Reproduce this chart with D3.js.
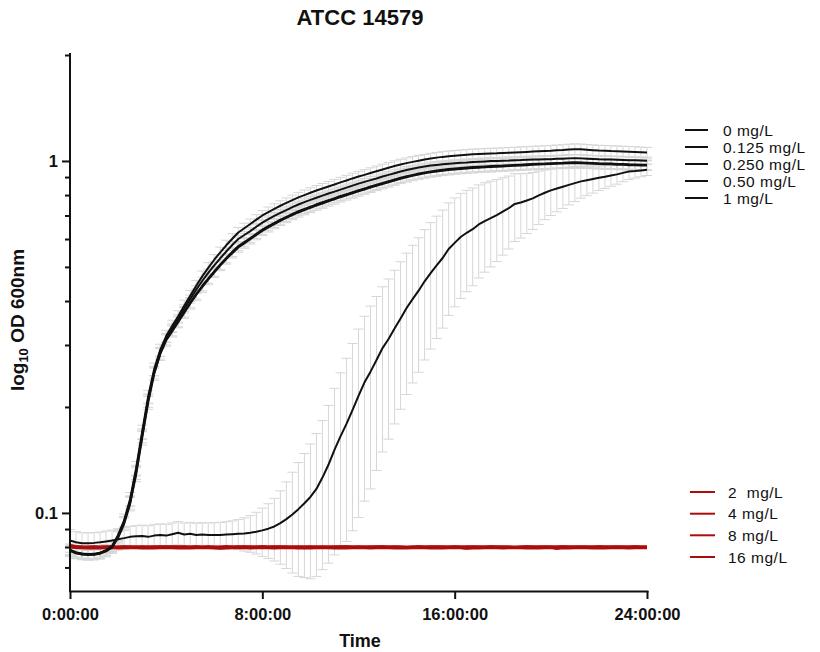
<!DOCTYPE html>
<html>
<head>
<meta charset="utf-8">
<script src="https://cdn.jsdelivr.net/npm/d3@7"></script>
<style>
  html, body { margin: 0; padding: 0; background: #fff; }
  svg { display: block; font-family: "Liberation Sans", Arial, Helvetica, sans-serif; }
</style>
</head>
<body>
<svg id="chart" width="820" height="652"></svg>
<script>
// OD600 readings every 15 minutes over 24 h (97 readings per concentration)
const sampleStepHours = 0.25;

// 0 mg/L
const od0 = [
  0.0786,0.0773,0.0767,0.0764,0.0765,0.0771,0.0784,0.0806,0.0866,0.0952,0.1095,0.1340,
  0.1700,0.2140,0.2560,0.2900,0.3180,0.3400,0.3620,0.3880,0.4140,0.4420,0.4700,0.4970,
  0.5240,0.5500,0.5760,0.6010,0.6260,0.6440,0.6620,0.6810,0.7000,0.7160,0.7310,0.7460,
  0.7600,0.7740,0.7880,0.8000,0.8120,0.8240,0.8350,0.8460,0.8570,0.8690,0.8800,0.8920,
  0.9030,0.9130,0.9240,0.9350,0.9460,0.9570,0.9670,0.9770,0.9860,0.9940,1.0020,1.0090,
  1.0160,1.0220,1.0270,1.0310,1.0350,1.0380,1.0410,1.0440,1.0460,1.0480,1.0500,1.0510,
  1.0530,1.0550,1.0570,1.0590,1.0610,1.0630,1.0650,1.0670,1.0690,1.0720,1.0740,1.0780,
  1.0800,1.0790,1.0760,1.0730,1.0700,1.0690,1.0670,1.0660,1.0640,1.0620,1.0600,1.0580,1.0560
];
const sd0 = [
  0.0030,0.0028,0.0027,0.0027,0.0027,0.0028,0.0029,0.0031,0.0035,0.0040,0.0048,0.0060,
  0.0075,0.0090,0.0105,0.0115,0.0122,0.0128,0.0135,0.0143,0.0150,0.0158,0.0165,0.0172,
  0.0180,0.0188,0.0195,0.0202,0.0210,0.0215,0.0220,0.0226,0.0232,0.0237,0.0242,0.0247,
  0.0252,0.0257,0.0262,0.0267,0.0272,0.0277,0.0282,0.0287,0.0292,0.0297,0.0302,0.0307,
  0.0312,0.0316,0.0320,0.0324,0.0328,0.0332,0.0336,0.0339,0.0342,0.0345,0.0348,0.0350,
  0.0352,0.0354,0.0356,0.0358,0.0360,0.0362,0.0363,0.0364,0.0365,0.0366,0.0367,0.0368,
  0.0369,0.0370,0.0371,0.0372,0.0373,0.0374,0.0375,0.0376,0.0377,0.0378,0.0379,0.0380,
  0.0380,0.0380,0.0379,0.0378,0.0377,0.0376,0.0375,0.0374,0.0373,0.0372,0.0371,0.0370,0.0369
];

// 0.125 mg/L
const od0125 = [
  0.0784,0.0771,0.0765,0.0762,0.0764,0.0770,0.0782,0.0803,0.0860,0.0945,0.1080,0.1320,
  0.1675,0.2110,0.2530,0.2870,0.3140,0.3350,0.3560,0.3800,0.4050,0.4310,0.4560,0.4810,
  0.5050,0.5290,0.5530,0.5770,0.6000,0.6160,0.6320,0.6500,0.6680,0.6830,0.6980,0.7120,
  0.7250,0.7390,0.7520,0.7640,0.7750,0.7860,0.7970,0.8080,0.8180,0.8290,0.8400,0.8510,
  0.8620,0.8720,0.8820,0.8920,0.9030,0.9130,0.9230,0.9330,0.9420,0.9500,0.9580,0.9640,
  0.9700,0.9740,0.9780,0.9820,0.9850,0.9880,0.9900,0.9930,0.9950,0.9970,0.9990,1.0000,
  1.0020,1.0030,1.0050,1.0060,1.0080,1.0090,1.0100,1.0110,1.0120,1.0140,1.0150,1.0170,
  1.0180,1.0170,1.0150,1.0130,1.0110,1.0100,1.0090,1.0080,1.0070,1.0050,1.0040,1.0030,1.0020
];
const sd0125 = [
  0.0022,0.0021,0.0020,0.0020,0.0020,0.0021,0.0022,0.0024,0.0027,0.0031,0.0037,0.0046,
  0.0058,0.0068,0.0078,0.0085,0.0090,0.0094,0.0098,0.0102,0.0106,0.0110,0.0114,0.0118,
  0.0122,0.0126,0.0130,0.0134,0.0138,0.0141,0.0144,0.0147,0.0150,0.0153,0.0156,0.0159,
  0.0162,0.0165,0.0168,0.0171,0.0174,0.0177,0.0180,0.0183,0.0186,0.0189,0.0192,0.0195,
  0.0198,0.0200,0.0202,0.0204,0.0206,0.0208,0.0210,0.0212,0.0214,0.0216,0.0218,0.0220,
  0.0221,0.0222,0.0223,0.0224,0.0225,0.0226,0.0227,0.0228,0.0229,0.0230,0.0231,0.0232,
  0.0233,0.0234,0.0235,0.0236,0.0237,0.0238,0.0239,0.0240,0.0241,0.0242,0.0243,0.0244,
  0.0245,0.0245,0.0244,0.0243,0.0242,0.0241,0.0240,0.0239,0.0238,0.0237,0.0236,0.0235,0.0234
];

// 0.250 mg/L
const od025 = [
  0.0782,0.0769,0.0763,0.0761,0.0762,0.0768,0.0780,0.0800,0.0855,0.0938,0.1070,0.1300,
  0.1650,0.2080,0.2500,0.2840,0.3110,0.3300,0.3500,0.3730,0.3960,0.4190,0.4420,0.4640,
  0.4860,0.5080,0.5300,0.5520,0.5730,0.5880,0.6040,0.6210,0.6380,0.6530,0.6670,0.6810,
  0.6940,0.7070,0.7200,0.7310,0.7420,0.7530,0.7630,0.7740,0.7840,0.7950,0.8050,0.8150,
  0.8260,0.8360,0.8460,0.8560,0.8660,0.8760,0.8860,0.8960,0.9050,0.9130,0.9210,0.9280,
  0.9340,0.9390,0.9440,0.9480,0.9520,0.9550,0.9580,0.9610,0.9630,0.9650,0.9670,0.9690,
  0.9700,0.9720,0.9740,0.9760,0.9780,0.9800,0.9820,0.9830,0.9850,0.9870,0.9880,0.9900,
  0.9910,0.9900,0.9890,0.9870,0.9850,0.9840,0.9830,0.9810,0.9800,0.9780,0.9770,0.9760,0.9750
];
const sd025 = [
  0.0028,0.0026,0.0025,0.0025,0.0025,0.0026,0.0027,0.0029,0.0033,0.0038,0.0045,0.0056,
  0.0070,0.0084,0.0096,0.0105,0.0111,0.0116,0.0121,0.0127,0.0132,0.0138,0.0143,0.0148,
  0.0153,0.0158,0.0163,0.0168,0.0173,0.0177,0.0181,0.0185,0.0189,0.0193,0.0197,0.0201,
  0.0205,0.0209,0.0213,0.0217,0.0221,0.0225,0.0229,0.0233,0.0237,0.0241,0.0245,0.0249,
  0.0253,0.0256,0.0259,0.0262,0.0265,0.0268,0.0271,0.0274,0.0277,0.0280,0.0282,0.0284,
  0.0286,0.0288,0.0290,0.0292,0.0294,0.0296,0.0298,0.0299,0.0300,0.0301,0.0302,0.0303,
  0.0304,0.0305,0.0306,0.0307,0.0308,0.0309,0.0310,0.0311,0.0312,0.0313,0.0314,0.0315,
  0.0316,0.0316,0.0315,0.0314,0.0313,0.0312,0.0311,0.0310,0.0309,0.0308,0.0307,0.0306,0.0305
];

// 0.50 mg/L
const od05 = [
  0.0780,0.0768,0.0762,0.0760,0.0761,0.0766,0.0778,0.0797,0.0850,0.0930,0.1060,0.1285,
  0.1630,0.2055,0.2480,0.2820,0.3090,0.3280,0.3480,0.3700,0.3930,0.4160,0.4380,0.4600,
  0.4820,0.5040,0.5260,0.5470,0.5680,0.5830,0.5990,0.6160,0.6330,0.6480,0.6620,0.6760,
  0.6890,0.7020,0.7140,0.7250,0.7360,0.7470,0.7570,0.7680,0.7780,0.7890,0.7990,0.8090,
  0.8200,0.8300,0.8400,0.8500,0.8600,0.8700,0.8800,0.8900,0.8990,0.9070,0.9150,0.9220,
  0.9280,0.9330,0.9380,0.9420,0.9460,0.9490,0.9520,0.9550,0.9570,0.9590,0.9610,0.9630,
  0.9650,0.9670,0.9690,0.9710,0.9730,0.9750,0.9770,0.9780,0.9800,0.9820,0.9830,0.9850,
  0.9860,0.9850,0.9840,0.9820,0.9800,0.9790,0.9780,0.9760,0.9750,0.9730,0.9720,0.9710,0.9700
];
const sd05 = [
  0.0029,0.0027,0.0026,0.0026,0.0026,0.0027,0.0028,0.0030,0.0034,0.0039,0.0047,0.0058,
  0.0072,0.0086,0.0099,0.0108,0.0114,0.0119,0.0124,0.0130,0.0136,0.0142,0.0147,0.0152,
  0.0157,0.0162,0.0167,0.0172,0.0177,0.0181,0.0185,0.0189,0.0193,0.0197,0.0201,0.0205,
  0.0209,0.0213,0.0217,0.0221,0.0225,0.0229,0.0233,0.0237,0.0241,0.0245,0.0249,0.0253,
  0.0257,0.0260,0.0263,0.0266,0.0269,0.0272,0.0275,0.0278,0.0281,0.0284,0.0286,0.0288,
  0.0290,0.0292,0.0294,0.0296,0.0298,0.0300,0.0302,0.0303,0.0304,0.0305,0.0306,0.0307,
  0.0308,0.0309,0.0310,0.0311,0.0312,0.0313,0.0314,0.0315,0.0316,0.0317,0.0318,0.0319,
  0.0320,0.0320,0.0319,0.0318,0.0317,0.0316,0.0315,0.0314,0.0313,0.0312,0.0311,0.0310,0.0309
];

// 1 mg/L
const od1 = [
  0.0835,0.0825,0.0820,0.0820,0.0822,0.0825,0.0830,0.0835,0.0842,0.0848,0.0855,0.0858,
  0.0860,0.0855,0.0862,0.0866,0.0862,0.0870,0.0878,0.0868,0.0872,0.0866,0.0868,0.0866,
  0.0866,0.0866,0.0868,0.0870,0.0872,0.0874,0.0878,0.0884,0.0892,0.0902,0.0915,0.0935,
  0.0960,0.0990,0.1025,0.1065,0.1110,0.1170,0.1260,0.1370,0.1510,0.1650,0.1790,0.1960,
  0.2150,0.2350,0.2520,0.2720,0.2940,0.3120,0.3340,0.3570,0.3820,0.4050,0.4280,0.4550,
  0.4800,0.5050,0.5300,0.5620,0.5850,0.6080,0.6250,0.6400,0.6600,0.6750,0.6880,0.7020,
  0.7180,0.7340,0.7550,0.7620,0.7720,0.7830,0.7980,0.8120,0.8250,0.8350,0.8450,0.8550,
  0.8650,0.8750,0.8820,0.8890,0.8960,0.9020,0.9090,0.9160,0.9250,0.9330,0.9360,0.9400,0.9440
];
const sd1 = [
  0.0062,0.0060,0.0058,0.0058,0.0057,0.0057,0.0058,0.0058,0.0058,0.0060,0.0061,0.0062,
  0.0063,0.0064,0.0064,0.0065,0.0066,0.0066,0.0067,0.0068,0.0068,0.0069,0.0070,0.0071,
  0.0072,0.0074,0.0076,0.0079,0.0085,0.0095,0.0105,0.0120,0.0140,0.0160,0.0185,0.0220,
  0.0265,0.0315,0.0365,0.0410,0.0460,0.0510,0.0570,0.0650,0.0750,0.0850,0.0960,0.1070,
  0.1180,0.1270,0.1350,0.1400,0.1450,0.1500,0.1550,0.1600,0.1650,0.1710,0.1770,0.1830,
  0.1880,0.1920,0.1950,0.1980,0.2000,0.2010,0.2000,0.1980,0.1950,0.1920,0.1880,0.1840,
  0.1780,0.1720,0.1650,0.1580,0.1500,0.1440,0.1380,0.1310,0.1250,0.1180,0.1120,0.1050,
  0.0980,0.0910,0.0850,0.0790,0.0720,0.0670,0.0620,0.0570,0.0520,0.0470,0.0420,0.0385,0.0350
];

// 2, 4, 8 and 16 mg/L (no growth)
const od2 = [
  0.0806,0.0803,0.0801,0.0800,0.0801,0.0800,0.0801,0.0801,0.0800,0.0802,0.0801,0.0800,
  0.0801,0.0800,0.0802,0.0801,0.0800,0.0801,0.0802,0.0801,0.0800,0.0801,0.0800,0.0801,
  0.0800,0.0799,0.0801,0.0800,0.0801,0.0802,0.0801,0.0800,0.0801,0.0800,0.0801,0.0802,
  0.0801,0.0800,0.0801,0.0800,0.0799,0.0800,0.0801,0.0800,0.0801,0.0802,0.0801,0.0800,
  0.0801,0.0800,0.0801,0.0802,0.0801,0.0800,0.0801,0.0800,0.0799,0.0800,0.0801,0.0800,
  0.0801,0.0802,0.0801,0.0800,0.0801,0.0800,0.0801,0.0802,0.0801,0.0800,0.0801,0.0800,
  0.0801,0.0800,0.0799,0.0800,0.0801,0.0800,0.0801,0.0802,0.0801,0.0800,0.0801,0.0800,
  0.0801,0.0802,0.0801,0.0800,0.0801,0.0800,0.0801,0.0802,0.0801,0.0800,0.0801,0.0800,0.0801
];
const od4 = [
  0.0803,0.0800,0.0798,0.0798,0.0797,0.0798,0.0798,0.0797,0.0798,0.0799,0.0798,0.0797,
  0.0798,0.0797,0.0798,0.0799,0.0798,0.0797,0.0798,0.0797,0.0798,0.0799,0.0798,0.0797,
  0.0798,0.0794,0.0797,0.0798,0.0799,0.0798,0.0797,0.0798,0.0797,0.0798,0.0799,0.0798,
  0.0797,0.0798,0.0797,0.0798,0.0799,0.0798,0.0797,0.0798,0.0797,0.0798,0.0797,0.0798,
  0.0799,0.0798,0.0797,0.0798,0.0797,0.0798,0.0799,0.0798,0.0797,0.0798,0.0797,0.0798,
  0.0799,0.0798,0.0797,0.0798,0.0797,0.0798,0.0794,0.0797,0.0798,0.0797,0.0798,0.0799,
  0.0798,0.0797,0.0798,0.0797,0.0798,0.0799,0.0798,0.0797,0.0798,0.0797,0.0798,0.0799,
  0.0798,0.0797,0.0798,0.0797,0.0798,0.0799,0.0798,0.0797,0.0798,0.0797,0.0798,0.0797,0.0798
];
const od8 = [
  0.0800,0.0797,0.0796,0.0795,0.0796,0.0795,0.0796,0.0796,0.0795,0.0796,0.0797,0.0796,
  0.0795,0.0796,0.0795,0.0796,0.0797,0.0796,0.0795,0.0796,0.0795,0.0796,0.0797,0.0796,
  0.0795,0.0796,0.0795,0.0796,0.0797,0.0796,0.0795,0.0796,0.0797,0.0796,0.0795,0.0796,
  0.0797,0.0796,0.0795,0.0796,0.0795,0.0796,0.0797,0.0796,0.0795,0.0796,0.0795,0.0796,
  0.0797,0.0796,0.0795,0.0796,0.0797,0.0796,0.0795,0.0796,0.0795,0.0796,0.0797,0.0796,
  0.0795,0.0796,0.0795,0.0796,0.0797,0.0796,0.0795,0.0796,0.0795,0.0796,0.0797,0.0796,
  0.0795,0.0796,0.0797,0.0796,0.0795,0.0796,0.0795,0.0796,0.0797,0.0792,0.0796,0.0795,
  0.0796,0.0797,0.0796,0.0795,0.0796,0.0795,0.0796,0.0797,0.0796,0.0795,0.0796,0.0797,0.0796
];
const od16 = [
  0.0808,0.0802,0.0799,0.0799,0.0800,0.0799,0.0799,0.0800,0.0799,0.0800,0.0799,0.0800,
  0.0799,0.0800,0.0799,0.0800,0.0801,0.0800,0.0799,0.0800,0.0799,0.0800,0.0799,0.0800,
  0.0799,0.0800,0.0801,0.0800,0.0799,0.0800,0.0799,0.0800,0.0801,0.0800,0.0799,0.0800,
  0.0799,0.0800,0.0799,0.0800,0.0801,0.0800,0.0799,0.0800,0.0799,0.0800,0.0801,0.0800,
  0.0799,0.0800,0.0799,0.0800,0.0801,0.0800,0.0799,0.0800,0.0799,0.0800,0.0801,0.0800,
  0.0799,0.0800,0.0799,0.0800,0.0801,0.0800,0.0799,0.0800,0.0799,0.0800,0.0801,0.0800,
  0.0799,0.0800,0.0799,0.0800,0.0801,0.0800,0.0799,0.0800,0.0799,0.0800,0.0801,0.0800,
  0.0799,0.0800,0.0799,0.0800,0.0801,0.0800,0.0799,0.0800,0.0799,0.0800,0.0801,0.0800,0.0799
];

const growthLabels = ["0 mg/L", "0.125 mg/L", "0.250 mg/L", "0.50 mg/L", "1 mg/L"];
const inhibitedLabels = ["2  mg/L", "4 mg/L", "8 mg/L", "16 mg/L"];

const xTickHours = [0, 8, 16, 24];
const xTickLabels = ["0:00:00", "8:00:00", "16:00:00", "24:00:00"];
const yMajorTicks = [0.1, 1];
const yMajorLabels = ["0.1", "1"];
const yMinorTicks = [0.07, 0.08, 0.09, 0.2, 0.3, 0.4, 0.5, 0.6, 0.7, 0.8, 0.9, 2];

const titleText = "ATCC 14579";
const xTitle = "Time";

// ---------------------------------------------------------------------------
const growthSeries = [
  { label: growthLabels[0], od: od0, sd: sd0 },
  { label: growthLabels[1], od: od0125, sd: sd0125 },
  { label: growthLabels[2], od: od025, sd: sd025 },
  { label: growthLabels[3], od: od05, sd: sd05 },
  { label: growthLabels[4], od: od1, sd: sd1 }
];
const inhibitedSeries = [
  { label: inhibitedLabels[0], od: od2 },
  { label: inhibitedLabels[1], od: od4 },
  { label: inhibitedLabels[2], od: od8 },
  { label: inhibitedLabels[3], od: od16 }
];

const BLACK = "#111111";
const RED = "#ad0c0c";
const BAR = "#d6d6d6";
const FONT = '"Liberation Sans", Arial, Helvetica, sans-serif';

const svg = d3.select("#chart");

const x = d3.scaleLinear().domain([0, 24]).range([70, 647]);
const y = d3.scaleLog().domain([0.06, 2]).range([591, 55]);
const hourAt = i => i * sampleStepHours;

// error bars (mean ± SD), drawn beneath every curve
const capHalf = 5;
const barLayer = svg.append("g")
  .attr("fill", "none")
  .attr("stroke", BAR)
  .attr("stroke-width", 1);

growthSeries.forEach(s => {
  barLayer.append("path")
    .attr("d", s.od.map((v, i) => {
      const px = x(hourAt(i));
      const hi = y(v + s.sd[i]);
      const loVal = v - s.sd[i];
      const lo = y(Math.max(loVal, y.domain()[0]));
      let d = `M${px},${lo}V${hi}M${px - capHalf},${hi}H${px + capHalf}`;
      if (loVal > y.domain()[0]) d += `M${px - capHalf},${lo}H${px + capHalf}`;
      return d;
    }).join(""));
});

const line = d3.line()
  .x((d, i) => x(hourAt(i)))
  .y(d => y(d));

// no-growth concentrations
svg.append("g").selectAll("path")
  .data(inhibitedSeries)
  .join("path")
  .attr("d", d => line(d.od))
  .attr("fill", "none")
  .attr("stroke", RED)
  .attr("stroke-width", 3)
  .attr("stroke-linejoin", "round");

// growing concentrations
svg.append("g").selectAll("path")
  .data(growthSeries)
  .join("path")
  .attr("d", d => line(d.od))
  .attr("fill", "none")
  .attr("stroke", BLACK)
  .attr("stroke-width", 2)
  .attr("stroke-linejoin", "round");

// axes
function styleAxis(g) {
  g.attr("font-family", FONT);
  g.select(".domain").attr("stroke", BLACK).attr("stroke-width", 2).attr("stroke-linecap", "square");
  g.selectAll(".tick line").attr("stroke", BLACK).attr("stroke-width", 2);
  g.selectAll(".tick text")
    .attr("fill", BLACK)
    .attr("font-size", 16.5)
    .attr("font-weight", "bold");
}

const yAxisG = svg.append("g")
  .attr("transform", "translate(70,0)")
  .call(d3.axisLeft(y)
    .tickValues(yMajorTicks)
    .tickFormat((d, i) => yMajorLabels[i])
    .tickSize(8)
    .tickSizeOuter(0)
    .tickPadding(4))
  .call(styleAxis);
yAxisG.select(".domain").attr("d", `M0,${y.range()[0]}V${y.range()[1] - 1}`);

svg.append("g")
  .attr("transform", "translate(70,0)")
  .call(d3.axisLeft(y).tickValues(yMinorTicks).tickFormat("").tickSize(5).tickSizeOuter(0))
  .call(g => g.select(".domain").remove())
  .call(g => g.selectAll(".tick line").attr("stroke", BLACK).attr("stroke-width", 2));

svg.append("g")
  .attr("transform", "translate(0,591)")
  .call(d3.axisBottom(x)
    .tickValues(xTickHours)
    .tickFormat((d, i) => xTickLabels[i])
    .tickSize(8)
    .tickSizeOuter(0)
    .tickPadding(9))
  .call(styleAxis);

// titles
svg.append("text")
  .attr("x", 360).attr("y", 25)
  .attr("text-anchor", "middle")
  .attr("font-family", FONT)
  .attr("font-size", 22)
  .attr("font-weight", "bold")
  .attr("fill", BLACK)
  .text(titleText);

svg.append("text")
  .attr("x", 360).attr("y", 647)
  .attr("text-anchor", "middle")
  .attr("font-family", FONT)
  .attr("font-size", 18)
  .attr("font-weight", "bold")
  .attr("fill", BLACK)
  .text(xTitle);

const yTitle = svg.append("text")
  .attr("transform", "translate(24,320) rotate(-90)")
  .attr("text-anchor", "middle")
  .attr("font-family", FONT)
  .attr("font-size", 19)
  .attr("font-weight", "bold")
  .attr("fill", BLACK);
yTitle.append("tspan").text("log");
yTitle.append("tspan").attr("font-size", 13).attr("dy", 4).text("10");
yTitle.append("tspan").attr("dy", -4).text(" OD 600nm");

// legends
const growthLegendRows = [130, 147, 164, 181, 198];
const legendTop = svg.append("g")
  .attr("font-family", FONT).attr("font-size", 15.5).attr("letter-spacing", 0.5).attr("fill", BLACK);
growthSeries.forEach((s, i) => {
  const ry = growthLegendRows[i];
  legendTop.append("line")
    .attr("x1", 685).attr("x2", 708).attr("y1", ry).attr("y2", ry)
    .attr("stroke", BLACK).attr("stroke-width", 2);
  legendTop.append("text")
    .attr("x", 723).attr("y", ry).attr("dy", "0.36em")
    .style("white-space", "pre")
    .text(s.label);
});

const inhibitedLegendRows = [492, 513.7, 535.3, 557];
const legendBottom = svg.append("g")
  .attr("font-family", FONT).attr("font-size", 15.5).attr("letter-spacing", 0.5).attr("fill", BLACK);
inhibitedSeries.forEach((s, i) => {
  const ry = inhibitedLegendRows[i];
  legendBottom.append("line")
    .attr("x1", 690).attr("x2", 715).attr("y1", ry).attr("y2", ry)
    .attr("stroke", RED).attr("stroke-width", 2);
  legendBottom.append("text")
    .attr("x", 728).attr("y", ry).attr("dy", "0.36em")
    .style("white-space", "pre")
    .text(s.label);
});
</script>
</body>
</html>
